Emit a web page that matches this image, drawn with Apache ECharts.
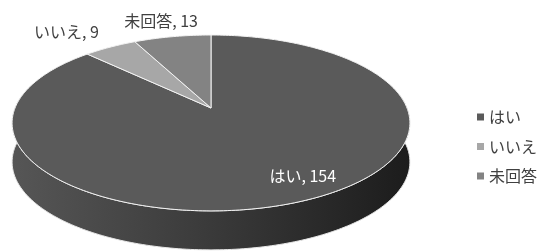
<!DOCTYPE html>
<html>
<head>
<meta charset="utf-8">
<script src="https://cdn.jsdelivr.net/npm/echarts@6/dist/echarts.min.js"></script>
<style>
  html, body { margin: 0; padding: 0; background: #fff; }
  #chart { width: 546px; height: 252px; }
</style>
</head>
<body>
<div id="chart"></div>
<script>
const CATEGORIES = ['はい', 'いいえ', '未回答'];
const VALUES = [154, 9, 13];
const COLORS = ['#5a5a5a', '#a7a7a7', '#838383'];

const FONT = '"Noto Sans CJK JP", "Noto Sans", sans-serif';
const TOTAL = VALUES.reduce((a, b) => a + b, 0);

// pie geometry (simple perspective tilt)
const CX = 211, CY = 108;   // apex of the pie
const KX = 196, KY = 85.4;  // radii
const P = 0.17;             // perspective factor
const DEPTH = 39;

const project = (theta, r) => {
    const u = Math.sin(theta) * r;
    const v = Math.cos(theta) * r;
    const w = 1 + P * v;
    return [CX + KX * u / w, CY - KY * v / w];
};

const arcPoints = (a0, a1, r, dy) => {
    const pts = [];
    const n = Math.max(2, Math.ceil(Math.abs(a1 - a0) / (Math.PI / 180)));
    for (let i = 0; i <= n; i++) {
        const p = project(a0 + (a1 - a0) * i / n, r);
        pts.push([p[0], p[1] + (dy || 0)]);
    }
    return pts;
};

const startAngle = (idx) => {
    let s = 0;
    for (let i = 0; i < idx; i++) s += VALUES[i];
    return s / TOTAL * Math.PI * 2;
};

const sideFill = new echarts.graphic.LinearGradient(0, 0, 1, 0, [
    { offset: 0, color: '#565656' },
    { offset: 0.5, color: '#3a3a3a' },
    { offset: 1, color: '#1c1c1c' }
]);

const chart = echarts.init(document.getElementById('chart'));

const legendSeries = CATEGORIES.map((name, i) => ({
    type: 'custom',
    name: name,
    coordinateSystem: 'none',
    itemStyle: { color: COLORS[i] },
    renderItem: () => ({ type: 'group', children: [] }),
    data: []
}));

chart.setOption({
    animation: false,
    legend: {
        orient: 'vertical',
        left: 472,
        top: 104,
        itemWidth: 7,
        itemHeight: 7,
        itemGap: 13.5,
        icon: 'rect',
        selectedMode: false,
        textStyle: { fontSize: 16, color: '#404040', fontFamily: FONT },
        data: CATEGORIES
    },
    series: [{
        type: 'custom',
        coordinateSystem: 'none',
        silent: true,
        renderItem: (params, api) => {
            const i = params.dataIndex;
            const a0 = startAngle(i);
            const a1 = a0 + api.value(0) / TOTAL * Math.PI * 2;
            const children = [];

            // visible front wall
            const s0 = Math.max(a0, Math.PI * 0.45);
            const s1 = Math.min(a1, Math.PI * 1.55);
            if (s1 > s0) {
                const top = arcPoints(s0, s1, 1, 0);
                const bottom = arcPoints(s1, s0, 1, DEPTH);
                children.push({
                    type: 'polygon',
                    z2: 1,
                    shape: { points: top.concat(bottom) },
                    style: { fill: sideFill, stroke: '#e6e6e6', lineWidth: 1 }
                });
            }

            // top face
            children.push({
                type: 'polygon',
                z2: 2,
                shape: { points: [[CX, CY]].concat(arcPoints(a0, a1, 1, 0)) },
                style: { fill: COLORS[i], stroke: '#f2f2f2', lineWidth: 1 }
            });

            // label
            const mid = (a0 + a1) / 2;
            const frac = api.value(0) / TOTAL;
            const text = CATEGORIES[i] + ', ' + api.value(0);
            let pos, align, vAlign, color;
            if (frac > 0.2) {
                pos = project(mid, 0.76);
                pos[0] += 27;
                align = 'center';
                vAlign = 'middle';
                color = '#ffffff';
            } else {
                pos = project(mid, 1.13);
                if (Math.sin(mid) < -0.5) {
                    align = 'right';
                } else {
                    align = 'center';
                    pos[0] -= 7;
                }
                vAlign = 'bottom';
                color = '#404040';
            }
            children.push({
                type: 'text',
                z2: 3,
                style: {
                    text: text,
                    x: pos[0],
                    y: pos[1],
                    align: align,
                    verticalAlign: vAlign,
                    fill: color,
                    fontSize: 16,
                    fontFamily: FONT
                }
            });

            return { type: 'group', children: children };
        },
        data: VALUES.map((v) => [v])
    }].concat(legendSeries)
});
</script>
</body>
</html>
